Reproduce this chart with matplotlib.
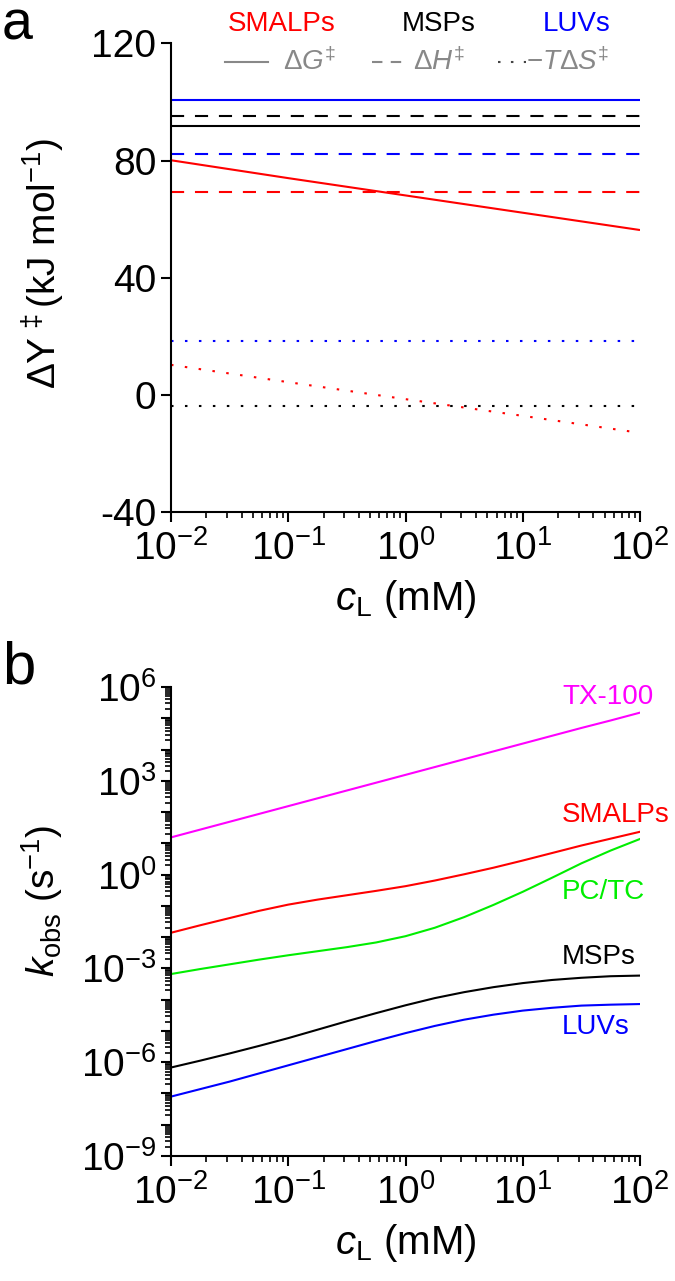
import matplotlib
matplotlib.use('Agg')
import matplotlib.pyplot as plt
import numpy as np
from matplotlib.lines import Line2D
from matplotlib.ticker import LogLocator, FuncFormatter, NullFormatter, FixedLocator

plt.rcParams['font.family'] = ['Liberation Sans', 'DejaVu Sans']
plt.rcParams['mathtext.fontset'] = 'custom'
plt.rcParams['mathtext.rm'] = 'Liberation Sans'
plt.rcParams['mathtext.it'] = 'Liberation Sans:italic'
plt.rcParams['mathtext.bf'] = 'Liberation Sans:bold'
plt.rcParams['axes.unicode_minus'] = False

# ---- data, panel a (kJ/mol) at c_L = 1e-2 ... 1e2 mM ----
c_a = [1e-2, 1e-1, 1e0, 1e1, 1e2]
dG_luv = [100.8] * 5
dH_luv = [82.2] * 5
TS_luv = [18.5] * 5
dG_msp = [91.7] * 5
dH_msp = [95.2] * 5
TS_msp = [-3.7] * 5
dG_smalp = [80.1, 74.0, 68.1, 62.2, 56.3]
dH_smalp = [69.3] * 5
TS_smalp = [10.3, 4.4, -1.4, -7.1, -12.9]

# ---- data, panel b: log10(k_obs / s^-1), read every quarter decade ----
logc_b = [-2, -1.75, -1.5, -1.25, -1, -0.75, -0.5, -0.25, 0,
          0.25, 0.5, 0.75, 1, 1.25, 1.5, 1.75, 2]
logk_tx100 = [1.19, 1.44, 1.69, 1.94, 2.19, 2.44, 2.69, 2.94, 3.19,
              3.44, 3.69, 3.94, 4.19, 4.44, 4.69, 4.93, 5.18]
logk_smalp = [-1.86, -1.62, -1.39, -1.16, -0.96, -0.80, -0.66, -0.52, -0.37,
              -0.19, 0.01, 0.22, 0.45, 0.69, 0.93, 1.15, 1.37]
logk_pctc = [-3.18, -3.02, -2.87, -2.72, -2.58, -2.45, -2.32, -2.17, -1.97,
             -1.70, -1.36, -0.97, -0.55, -0.10, 0.36, 0.77, 1.14]
logk_msp = [-6.17, -5.95, -5.72, -5.48, -5.23, -4.96, -4.69, -4.43, -4.18,
            -3.95, -3.76, -3.60, -3.47, -3.37, -3.30, -3.25, -3.23]
logk_luv = [-7.10, -6.86, -6.62, -6.36, -6.10, -5.84, -5.58, -5.32, -5.07,
            -4.84, -4.64, -4.48, -4.35, -4.26, -4.19, -4.16, -4.14]

RED, BLUE, BLACK = '#ff0000', '#0000ff', '#000000'
MAG, GREEN, GRAY = '#ff00ff', '#00ee00', '#888888'
DASH = (0, (6.3, 5.2))
DOT = (0, (1.2, 5.5))
LW = 1.5
W, H = 675, 1281


def px(x, y):
    return x / W, 1 - y / H


fig = plt.figure(figsize=(W / 100, H / 100), dpi=100)
ax1 = fig.add_axes([171 / W, 1 - 512.3 / H, 469 / W, 469 / H])
ax2 = fig.add_axes([171 / W, 1 - 1156 / H, 469 / W, 469 / H])

# ---- panel a ----
for vals, col in [(dG_luv, BLUE), (dG_msp, BLACK), (dG_smalp, RED)]:
    ax1.plot(c_a, vals, color=col, lw=LW, solid_capstyle='butt')
for vals, col in [(dH_luv, BLUE), (dH_msp, BLACK), (dH_smalp, RED)]:
    ax1.plot(c_a, vals, color=col, lw=LW, ls=DASH, dash_capstyle='butt')
for vals, col in [(TS_luv, BLUE), (TS_msp, BLACK), (TS_smalp, RED)]:
    ax1.plot(c_a, vals, color=col, lw=LW, ls=DOT, dash_capstyle='butt')

ax1.set_ylim(-40, 120)
ax1.set_yticks([-40, 0, 40, 80, 120])
ax1.set_ylabel(r'$\Delta\mathrm{Y}^{\,\ddagger}$(kJ mol$^{-1}$)', fontsize=28)
ax1.yaxis.set_label_coords(-0.222, 0.53)

# ---- panel b ----
for vals, col in [(logk_tx100, MAG), (logk_smalp, RED), (logk_pctc, GREEN),
                  (logk_msp, BLACK), (logk_luv, BLUE)]:
    ax2.plot(10 ** np.array(logc_b), 10 ** np.array(vals), color=col, lw=LW)

ax2.set_yscale('log')
ax2.set_ylim(1e-9, 1e6)
ax2.yaxis.set_major_locator(FixedLocator([10.0 ** e for e in range(-9, 7)]))
ax2.yaxis.set_major_formatter(FuncFormatter(
    lambda v, p: r'$10^{%d}$' % round(np.log10(v)) if round(np.log10(v)) % 3 == 0 else ''))
ax2.yaxis.set_minor_locator(LogLocator(base=10, subs=np.arange(2, 10), numticks=100))
ax2.yaxis.set_minor_formatter(NullFormatter())
ax2.set_ylabel(r'$k_{\mathrm{obs}}$ (s$^{-1}$)', fontsize=28)
ax2.yaxis.set_label_coords(-0.226, 0.544)

labels_b = [('TX-100', MAG, 697), ('SMALPs', RED, 815), ('PC/TC', GREEN, 892),
            ('MSPs', BLACK, 957), ('LUVs', BLUE, 1027)]
for txt, col, yy in labels_b:
    fig.text(*px(562, yy), txt, color=col, fontsize=20, ha='left', va='center')

# ---- shared styling ----
for ax in (ax1, ax2):
    ax.set_xscale('log')
    ax.set_xlim(1e-2, 1e2)
    ax.xaxis.set_major_locator(FixedLocator([1e-2, 1e-1, 1e0, 1e1, 1e2]))
    ax.xaxis.set_major_formatter(FuncFormatter(lambda v, p: r'$10^{%d}$' % round(np.log10(v))))
    ax.xaxis.set_minor_locator(LogLocator(base=10, subs=np.arange(2, 10), numticks=100))
    ax.xaxis.set_minor_formatter(NullFormatter())
    ax.set_xlabel(r'$c_{\mathrm{L}}$ (mM)', fontsize=29, labelpad=7)
    ax.spines['top'].set_visible(False)
    ax.spines['right'].set_visible(False)
    for s in ('left', 'bottom'):
        ax.spines[s].set_linewidth(1.5)
    ax.tick_params(which='major', length=7, width=1.5, labelsize=28, direction='out')
    ax.tick_params(axis='x', which='major', pad=6)
    ax.tick_params(which='minor', length=4, width=1.2, direction='out')

# panel letters
fig.text(*px(2, 40), 'a', fontsize=40, ha='left', va='baseline')
fig.text(*px(2, 683), 'b', fontsize=43, ha='left', va='baseline')

# ---- legend for panel a ----
fig.text(*px(282, 24), 'SMALPs', color=RED, fontsize=20, ha='center', va='center')
fig.text(*px(439, 24), 'MSPs', color=BLACK, fontsize=20, ha='center', va='center')
fig.text(*px(577, 24), 'LUVs', color=BLUE, fontsize=20, ha='center', va='center')

fig.add_artist(Line2D([225 / W, 268 / W], [1 - 62 / H] * 2, color=GRAY, lw=LW))
fig.add_artist(Line2D([372 / W, 409 / W], [1 - 62 / H] * 2, color=GRAY, lw=LW,
                      ls=(0, (5, 4))))
fig.add_artist(Line2D([498 / W, 526 / W], [1 - 62 / H] * 2, color='#444444', lw=LW,
                      ls=(0, (1.2, 5.0))))
fig.text(*px(283, 62), r'$\Delta G^{\ddagger}$', color=GRAY, fontsize=20, va='center')
fig.text(*px(413, 62), r'$\Delta H^{\ddagger}$', color=GRAY, fontsize=20, va='center')
fig.text(*px(526, 62), r'$-T\Delta S^{\ddagger}$', color=GRAY, fontsize=20, va='center')

fig.savefig('out.png', dpi=100)
